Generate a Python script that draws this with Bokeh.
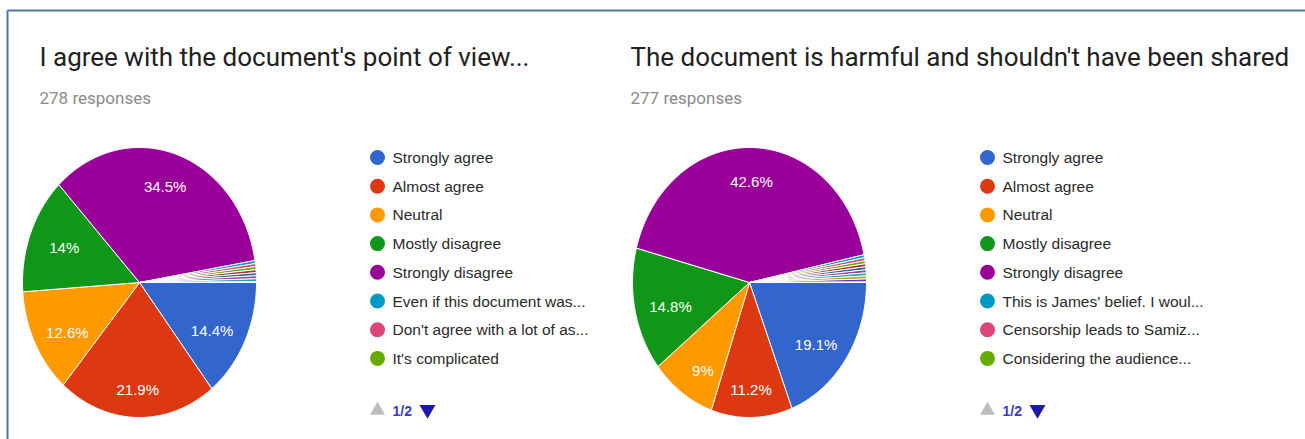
import numpy as np
from bokeh.plotting import figure
from bokeh.models import Range1d
from bokeh.core.properties import value
from bokeh.embed import file_html
from bokeh.resources import INLINE

# ---------------- data ----------------
title1 = "I agree with the document's point of view..."
responses1 = "278 responses"
labels1 = ["Strongly agree", "Almost agree", "Neutral", "Mostly disagree",
           "Strongly disagree", "Even if this document was...",
           "Don't agree with a lot of as...", "It's complicated"]
values1 = [14.4, 21.9, 12.6, 14.0, 34.5, 0.36, 0.36, 0.36]
# remaining single-response answers on legend page 2
others1 = [0.36, 0.36, 0.36, 0.36]

title2 = "The document is harmful and shouldn't have been shared"
responses2 = "277 responses"
labels2 = ["Strongly agree", "Almost agree", "Neutral", "Mostly disagree",
           "Strongly disagree", "This is James' belief. I woul...",
           "Censorship leads to Samiz...", "Considering the audience..."]
values2 = [19.1, 11.2, 9.0, 14.8, 42.6, 0.36, 0.36, 0.36]
others2 = [0.36, 0.36, 0.36, 0.36, 0.36, 0.36]

page_label = "1/2"

colors = ["#3366CC", "#DC3912", "#FF9900", "#109618", "#990099",
          "#0099C6", "#DD4477", "#66AA00", "#B82E2E", "#316395",
          "#994499", "#22AA99", "#AAAA11", "#6633CC"]

W, H = 1305, 439
p = figure(width=W, height=H, output_backend="svg", toolbar_location=None,
           x_range=Range1d(0, W), y_range=Range1d(H, 0),
           x_axis_location=None, y_axis_location=None, min_border=0,
           outline_line_color=None, background_fill_color="white",
           border_fill_color="white")
p.grid.visible = False

# frame lines
p.segment(x0=[7, 7], y0=[10, 10], x1=[W, 7], y1=[10, H],
          line_color="#4f76a6", line_width=2)


def pie_panel(x0, title_x, title, responses, labels, values, others):
    cx, cy, rx, ry = x0 + 139, 282, 117, 135
    # titles
    p.text(x=[title_x], y=[56], text=[title], text_font=value("Roboto"),
           text_font_size="26px", text_color="#212121",
           text_baseline="middle", text_align="left")
    p.text(x=[title_x], y=[97], text=[responses], text_font=value("Roboto"),
           text_font_size="17px", text_color="#8a8a8a",
           text_baseline="middle", text_align="left")
    allv = list(values) + list(others)
    total = 100.0
    xs, ys, cols = [], [], []
    lx, ly, lt = [], [], []
    start = 0.0
    for i, v in enumerate(allv):
        a0 = 2 * np.pi * start / total
        a1 = 2 * np.pi * (start + v) / total
        t = np.linspace(a0, a1, max(4, int(v * 3)))
        xs.append([cx] + list(cx + rx * np.cos(t)) + [cx])
        ys.append([cy] + list(cy + ry * np.sin(t)) + [cy])
        cols.append(colors[i % len(colors)])
        if v >= 5:
            am = (a0 + a1) / 2
            lx.append(cx + 0.69 * rx * np.cos(am))
            ly.append(cy + 3 + 0.77 * ry * np.sin(am))
            lt.append(f"{v:g}%")
        start += v
    if start < total:
        a0 = 2 * np.pi * start / total
        t = np.linspace(a0, 2 * np.pi, 4)
        xs.append([cx] + list(cx + rx * np.cos(t)) + [cx])
        ys.append([cy] + list(cy + ry * np.sin(t)) + [cy])
        cols.append("#ffffff")
    p.patches(xs=xs, ys=ys, fill_color=cols, line_color="white", line_width=1)
    p.text(x=lx, y=ly, text=lt, text_font=value("Liberation Sans"),
           text_font_size="15px", text_color="white",
           text_align="center", text_baseline="middle")

    # legend
    mx = x0 + 377
    tx = x0 + 392
    ly0, dy = 157, 28.7
    yy = [ly0 + i * dy for i in range(len(labels))]
    p.scatter(x=[mx] * len(labels), y=yy, size=15, marker="circle",
              fill_color=colors[:len(labels)], line_color=None)
    p.text(x=[tx] * len(labels), y=yy, text=labels,
           text_font=value("Liberation Sans"), text_font_size="15.5px",
           text_color="#2a2a2a", text_baseline="middle", text_align="left")
    # pagination
    py = 410
    p.scatter(x=[mx], y=[py], marker="triangle", size=15,
              fill_color="#bdbdbd", line_color=None)
    p.text(x=[tx], y=[py], text=[page_label],
           text_font=value("Liberation Sans"), text_font_size="14px",
           text_font_style="bold",
           text_color="#3a3acc", text_baseline="middle", text_align="left")
    p.scatter(x=[mx + 50], y=[py - 1], marker="inverted_triangle", size=16,
              fill_color="#1b1ba8", line_color=None)


pie_panel(0, 39, title1, responses1, labels1, values1, others1)
pie_panel(610, 630, title2, responses2, labels2, values2, others2)

open("out.html", "w").write(file_html(p, INLINE))
